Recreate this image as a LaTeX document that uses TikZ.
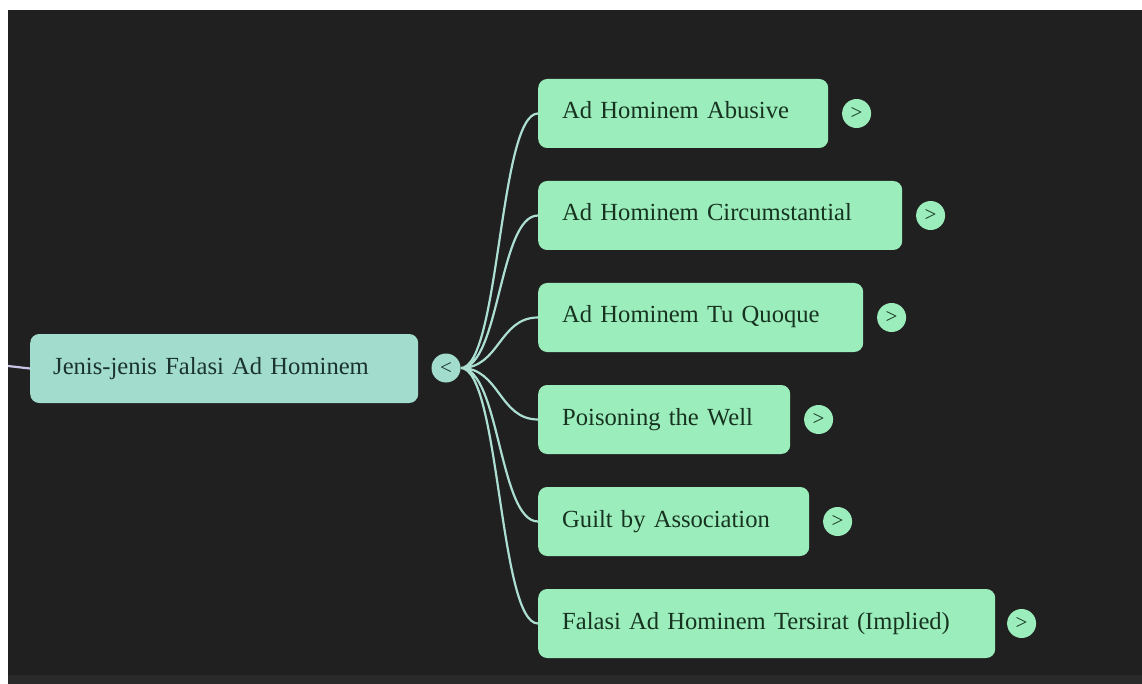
\documentclass[tikz,border=0pt]{standalone}
\usepackage{fontspec}
\setmainfont{Liberation Serif}
\usetikzlibrary{positioning,calc}
\definecolor{bgdark}{HTML}{202020}
\definecolor{bgstrip}{HTML}{2A2A2A}
\definecolor{rootfill}{HTML}{A2DCCD}
\definecolor{leaffill}{HTML}{9BEDBC}
\definecolor{roottext}{HTML}{1A332C}
\definecolor{leaftext}{HTML}{173320}
\definecolor{linkteal}{HTML}{ACDFD2}
\definecolor{stublilac}{HTML}{C9C4E6}

\begin{document}
\begin{tikzpicture}[x=1pt, y=-1pt,
    rootbox/.style={fill=rootfill, rounded corners=9pt, anchor=west, minimum height=69pt,
        inner xsep=23pt, text width=#1, align=left, text height=16pt, text depth=5pt,
        font=\fontsize{24.6}{30}\selectfont, text=roottext},
    leafbox/.style={fill=leaffill, rounded corners=9pt, anchor=west, minimum height=69pt,
        inner xsep=24pt, text width=#1, align=left, text height=16pt, text depth=5pt,
        font=\fontsize{24.6}{30}\selectfont, text=leaftext},
    knob/.style={circle, fill=leaffill, minimum size=29pt, inner sep=0pt,
        font=\fontsize{21}{21}\selectfont, text=leaftext},
    link/.style={draw=linkteal, line width=2.2pt}
]
                        % canvas
                        \useasboundingbox (0, 0) rectangle (1142, 684);
                        \fill[white] (0, 0) rectangle (1142, 684);
                        \fill[bgdark] (8, 10) rectangle (1142, 675);
                        \fill[bgstrip] (8, 675) rectangle (1142, 684);
                        % root and hub
                        \node[rootbox=342pt] (root) at (30, 368.5) {Jenis-jenis Falasi Ad Hominem};
                        \node[knob, fill=rootfill, text=roottext] (hub) at (446, 368) {<};
                        \coordinate (stub) at (8, 366);
                        \draw[draw=stublilac, line width=2.2pt] (stub) -- (root.west);
                        % branches
                        \node[leafbox=242pt] (abusive) at (538, 113.5) {Ad Hominem Abusive};
                        \node[leafbox=316pt] (circum) at (538, 215.5) {Ad Hominem Circumstantial};
                        \node[leafbox=277pt] (tuquoque) at (538, 317.5) {Ad Hominem Tu Quoque};
                        \node[leafbox=204pt] (poison) at (538, 419.5) {Poisoning the Well};
                        \node[leafbox=223pt] (guilt) at (538, 521.5) {Guilt by Association};
                        \node[leafbox=409pt] (implied) at (538, 623.5) {Falasi Ad Hominem Tersirat (Implied)};
                        \node[knob, right=13.5pt of abusive] (kabusive) {>};
                        \node[knob, right=13.5pt of circum] (kcircum) {>};
                        \node[knob, right=13.5pt of tuquoque] (ktuquoque) {>};
                        \node[knob, right=13.5pt of poison] (kpoison) {>};
                        \node[knob, right=13.5pt of guilt] (kguilt) {>};
                        \node[knob, right=11.5pt of implied] (kimplied) {>};
                        \draw[link]
                        (hub.east) .. controls ($(hub.east)+(39, 0)$) and ($(abusive.west)+(-39, 0)$) .. (abusive.west)
                        (hub.east) .. controls ($(hub.east)+(39, 0)$) and ($(circum.west)+(-39, 0)$) .. (circum.west)
                        (hub.east) .. controls ($(hub.east)+(39, 0)$) and ($(tuquoque.west)+(-39, 0)$) .. (tuquoque.west)
                        (hub.east) .. controls ($(hub.east)+(39, 0)$) and ($(poison.west)+(-39, 0)$) .. (poison.west)
                        (hub.east) .. controls ($(hub.east)+(39, 0)$) and ($(guilt.west)+(-39, 0)$) .. (guilt.west)
                        (hub.east) .. controls ($(hub.east)+(39, 0)$) and ($(implied.west)+(-39, 0)$) .. (implied.west);
                    \end{tikzpicture}
\end{document}
